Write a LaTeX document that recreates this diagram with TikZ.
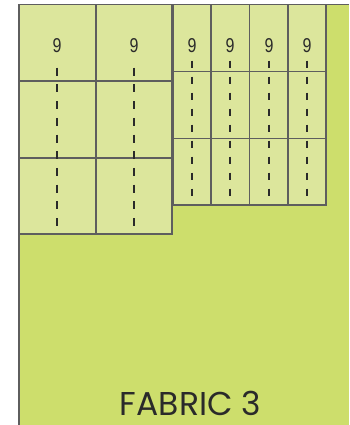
\documentclass[tikz,border=0pt]{standalone}
\usepackage{fontspec}
\setmainfont{Poppins}
\newfontfamily\digitfont{Liberation Sans}
\definecolor{fabricgreen}{HTML}{CDDE6C}
\definecolor{piecegreen}{HTML}{DCE69C}
\definecolor{edgegray}{HTML}{5E5E5E}
\definecolor{textgray}{HTML}{2A2A2A}
\tikzset{
  piece/.style={fill=piecegreen, draw=edgegray, line width=1.4pt},
  cutline/.style={draw=textgray, line width=2pt},
  numlabel/.style={text=textgray, inner sep=0pt, font=\digitfont\fontsize{20}{24}\selectfont},
}
\begin{document}
\begin{tikzpicture}[x=1pt,y=-1pt]
\useasboundingbox (0,0) rectangle (349,425);
% fabric
\fill[fabricgreen] (19,4.5) rectangle (349,425);
\draw[edgegray, line width=1.4pt] (19,425) -- (19,4.5) -- (349,4.5);
% left large pieces
\foreach \xa/\xb in {19/96,96/172}{
  \foreach \ya/\yb in {4.5/81,81/158,158/234}{
    \draw[piece] (\xa,\ya) rectangle (\xb,\yb);
  }
}
% right small pieces
\foreach \xa/\xb in {173/211,211/249.5,249.5/288,288/326}{
  \foreach \ya/\yb in {4.5/71.3,71.3/138.3,138.3/205}{
    \draw[piece] (\xa,\ya) rectangle (\xb,\yb);
  }
}
% dashed lines, left
\foreach \x in {57,134}{
  \draw[cutline, dash pattern=on 8pt off 8.7pt] (\x,67.7) -- (\x,226.3);
}
% dashed lines, right
\foreach \x in {192,230,269,307}{
  \draw[cutline, dash pattern=on 7pt off 9pt] (\x,60.7) -- (\x,195.7);
}
% labels
\node[numlabel] (n1) at (57,45.5) {\scalebox{0.8}[1]{9}};
\node[numlabel] (n2) at (134,45.5) {\scalebox{0.8}[1]{9}};
\node[numlabel] (n3) at (192,45.5) {\scalebox{0.8}[1]{9}};
\node[numlabel] (n4) at (230,45.5) {\scalebox{0.8}[1]{9}};
\node[numlabel] (n5) at (269,45.5) {\scalebox{0.8}[1]{9}};
\node[numlabel] (n6) at (307,45.5) {\scalebox{0.8}[1]{9}};
\node[font=\fontsize{33}{33}\selectfont, text=textgray, anchor=base, inner sep=0pt] (title) at (190.5,415.5) {FABRIC 3};
\end{tikzpicture}
\end{document}
